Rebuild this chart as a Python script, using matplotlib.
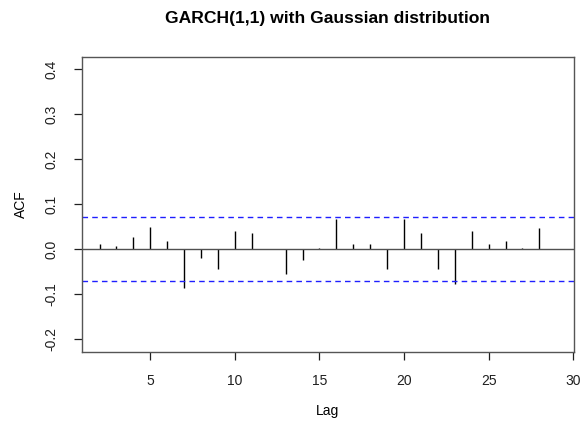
import numpy as np
import matplotlib
matplotlib.use("Agg")
import matplotlib.pyplot as plt

plt.rcParams['font.family'] = ['Liberation Sans', 'DejaVu Sans']

# sample autocorrelations of standardized residuals, lags 2..28
lags = list(range(2, 29))
acf = [0.011, 0.007, 0.027, 0.049, 0.017, -0.087, -0.019, -0.044, 0.041, 0.036,
       0.0, -0.055, -0.025, 0.002, 0.066, 0.011, 0.011, -0.044, 0.066, 0.035,
       -0.044, -0.078, 0.041, 0.011, 0.017, 0.002, 0.047]
conf_bound = 0.072

x_ticks = [5, 10, 15, 20, 25, 30]
y_ticks = [-0.2, -0.1, 0.0, 0.1, 0.2, 0.3, 0.4]
y_ticklabels = ["-0.2", "-0.1", "0.0", "0.1", "0.2", "0.3", "0.4"]

fig = plt.figure(figsize=(5.84, 4.34), dpi=100)
ax = fig.add_axes([0.140, 0.190, 0.843, 0.678])

ax.vlines(lags, 0, acf, color='black', linewidth=1.0)
ax.axhline(0, color='#505050', linewidth=1.0)
ax.axhline(conf_bound, color='#1f1fff', linestyle=(0, (4, 3)), linewidth=1.0)
ax.axhline(-conf_bound, color='#1f1fff', linestyle=(0, (4, 3)), linewidth=1.0)

ax.set_xlim(0.95, 30.05)
ax.set_ylim(-0.228, 0.427)

ax.set_xticks(x_ticks)
ax.set_yticks(y_ticks)
ax.set_yticklabels(y_ticklabels, rotation=90, va='center')
ax.tick_params(direction='out', length=6, width=0.9, labelsize=10,
               colors='#202020')
ax.tick_params(axis='x', pad=10)
ax.tick_params(axis='y', pad=11)

for s in ax.spines.values():
    s.set_color('#555555')
    s.set_linewidth(1.0)

ax.set_title("GARCH(1,1) with Gaussian distribution", fontsize=12.6,
             fontweight='bold', pad=25)
ax.set_xlabel("Lag", fontsize=10, labelpad=12)
ax.set_ylabel("ACF", fontsize=10, labelpad=12)

fig.savefig("out.png", dpi=100)
